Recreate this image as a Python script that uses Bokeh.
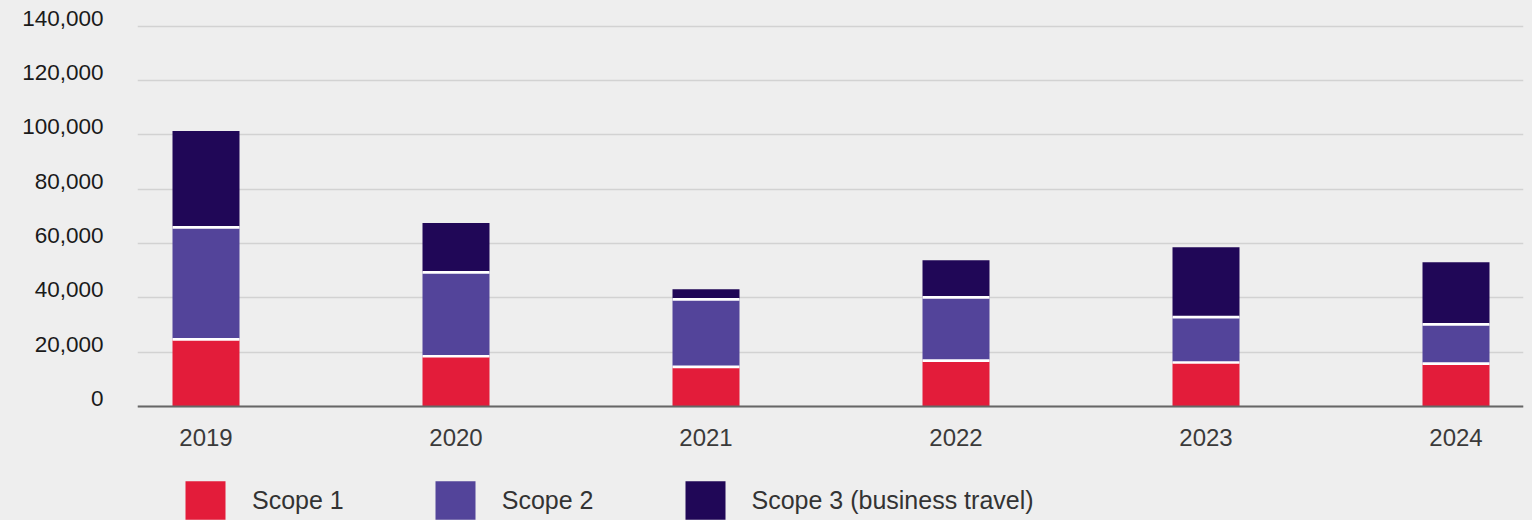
from bokeh.plotting import figure
from bokeh.models import (Range1d, LinearAxis, FixedTicker, NumeralTickFormatter,
                          Legend, LegendItem, ColumnDataSource)
from bokeh.embed import file_html
from bokeh.resources import INLINE
import numpy as np

# ---- data ----
years = [2019, 2020, 2021, 2022, 2023, 2024]
scope1 = [24700, 18500, 14600, 16900, 16200, 15800]
scope2 = [41200, 30900, 24800, 23300, 16700, 14400]
scope3 = [35500, 18100, 3800, 13600, 25700, 22900]
y_ticks = [0, 20000, 40000, 60000, 80000, 100000, 120000, 140000]
series_names = ["Scope 1", "Scope 2", "Scope 3 (business travel)"]

# ---- styles ----
colors = ["#E31C3A", "#53449A", "#200757"]
bg = "#eeeeee"
font = "Liberation Sans"

W, H = 1532, 520
px_per_unit = 0.002717
frame_h_above = 406
frame_h_below = H - 406
y_start = -frame_h_below / px_per_unit
y_end = frame_h_above / px_per_unit
label_shift = 8 / px_per_unit

x_start = 2018.726
x_end = 2024.270
bar_w = 0.268

source = ColumnDataSource(dict(x=years, s1=scope1, s2=scope2, s3=scope3))

p = figure(width=W, height=H,
           x_range=Range1d(x_start, x_end), y_range=Range1d(y_start, y_end),
           output_backend="svg", toolbar_location=None,
           min_border_left=137, min_border_right=9, min_border_top=0, min_border_bottom=0)
p.background_fill_color = bg
p.border_fill_color = bg
p.outline_line_color = None

rs = p.vbar_stack(["s1", "s2", "s3"], x="x", width=bar_w, source=source,
                  color=colors, line_color=None)

# white separators between stacked segments
xs = np.array(years, dtype=float)
c1 = np.array(scope1, dtype=float)
c2 = c1 + np.array(scope2, dtype=float)
p.segment(x0=np.concatenate([xs, xs]) - bar_w / 2, x1=np.concatenate([xs, xs]) + bar_w / 2,
          y0=np.concatenate([c1, c2]), y1=np.concatenate([c1, c2]),
          line_color="white", line_width=2.7)

# grid
p.xgrid.visible = False
p.ygrid[0].ticker = FixedTicker(ticks=y_ticks)
p.ygrid[0].grid_line_color = "#d2d2d2"
p.ygrid[0].grid_line_width = 1.5

# main y axis hidden; label axis shifted upward
main_y = p.yaxis[0]
main_y.visible = False
p.extra_y_ranges = {"lab": Range1d(y_start - label_shift, y_end - label_shift)}
lab_axis = LinearAxis(y_range_name="lab", ticker=FixedTicker(ticks=y_ticks),
                      formatter=NumeralTickFormatter(format="0,0"),
                      axis_line_color=None, major_tick_line_color=None,
                      minor_tick_line_color=None, major_label_standoff=28,
                      major_label_text_font=font, major_label_text_font_size="22.5px",
                      major_label_text_color="#1a1a1a")
p.add_layout(lab_axis, "left")

# x axis at y = 0
xa = p.xaxis[0]
xa.fixed_location = 0
xa.ticker = FixedTicker(ticks=years)
xa.axis_line_color = "#666666"
xa.axis_line_width = 2
xa.major_tick_line_color = None
xa.minor_tick_line_color = None
xa.major_label_standoff = 16
xa.major_label_text_font = font
xa.major_label_text_font_size = "24px"
xa.major_label_text_color = "#3a3a3a"

legend = Legend(items=[LegendItem(label=n, renderers=[r]) for n, r in zip(series_names, rs)],
                orientation="horizontal", location=(43, -4),
                glyph_width=50, glyph_height=48, label_standoff=22, spacing=86,
                padding=0, margin=0, border_line_color=None, background_fill_alpha=0,
                label_text_font=font, label_text_font_size="25px",
                label_text_color="#333333", label_height=48)
p.add_layout(legend, "center")

template = """
{% block postamble %}
<style>html, body { background-color: #eeeeee; }</style>
{% endblock %}
"""
open("out.html", "w").write(file_html(p, INLINE, template=template))
